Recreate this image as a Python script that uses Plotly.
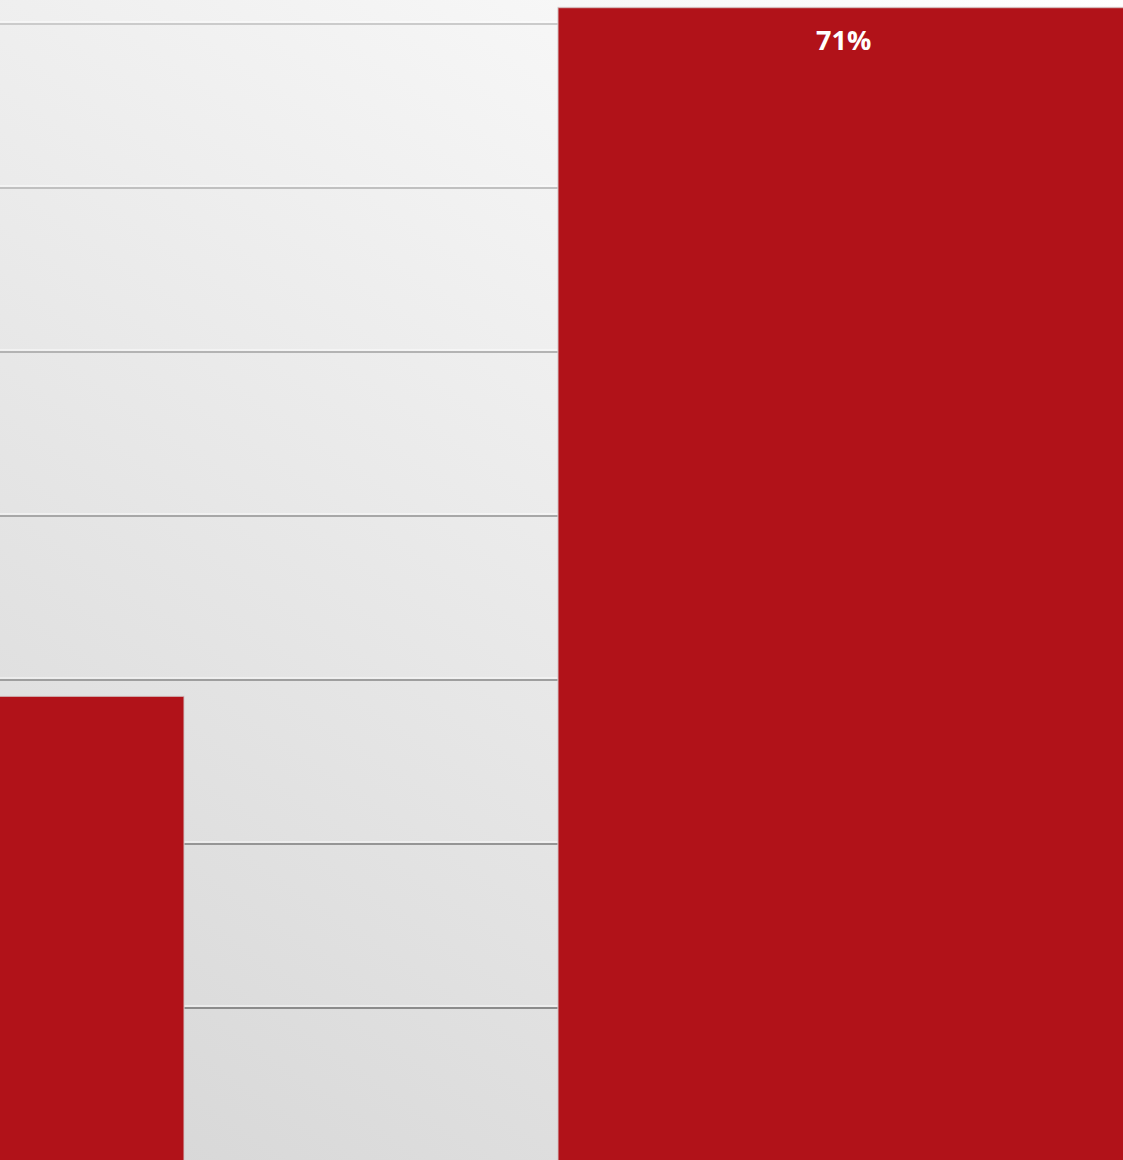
import base64
import plotly.graph_objects as go

# ---- data ----
categories = ["Category 1", "Category 2"]
values = [29, 71]
grid_values = [10, 20, 30, 40, 50, 60, 70]
grid_colors = ["#8b8b8b", "#959595", "#9e9e9e", "#a7a7a7", "#b3b3b3", "#c0c0c0", "#cbcbcb"]

W, H = 1123, 1160
BAR = "#b11219"

# diagonal background gradient (white top-right -> light grey bottom-left)
svg = f'''<svg xmlns="http://www.w3.org/2000/svg" width="{W}" height="{H}" viewBox="0 0 {W} {H}">
<defs><linearGradient id="g" gradientUnits="userSpaceOnUse" x1="{W}" y1="0" x2="245" y2="1310">
<stop offset="0" stop-color="#ffffff"/><stop offset="1" stop-color="#d6d6d6"/></linearGradient></defs>
<rect width="{W}" height="{H}" fill="url(#g)"/></svg>'''
bg_src = "data:image/svg+xml;base64," + base64.b64encode(svg.encode()).decode()

fig = go.Figure()
fig.add_trace(go.Bar(
    x=categories, y=values, width=0.604,
    marker=dict(color=BAR, line=dict(color="rgba(215,215,215,0.65)", width=1.5)),
    hoverinfo="skip",
))

shapes = []
for gv, gc in zip(grid_values, grid_colors):
    # light highlight just above each grid line
    shapes.append(dict(type="line", xref="paper", x0=0, x1=1, yref="y", ysizemode="pixel",
                       yanchor=gv, y0=2, y1=2, line=dict(color="rgba(255,255,255,0.8)", width=1),
                       layer="below"))
    shapes.append(dict(type="line", xref="paper", x0=0, x1=1, yref="y", y0=gv, y1=gv,
                       line=dict(color=gc, width=2), layer="below"))

annotations = [dict(x=c, y=v, xref="x", yref="y", text=f"{v}%", showarrow=False,
                    yanchor="middle", yshift=-32,
                    font=dict(family="Open Sans", size=27, color="white", weight="bold"))
               for c, v in zip(categories, values)]

fig.update_layout(
    width=W, height=H,
    margin=dict(l=0, r=0, t=0, b=0),
    paper_bgcolor="#ececec", plot_bgcolor="rgba(0,0,0,0)",
    showlegend=False,
    images=[dict(source=bg_src, xref="paper", yref="paper", x=0, y=1, sizex=1, sizey=1,
                 sizing="stretch", xanchor="left", yanchor="top", layer="below")],
    shapes=shapes,
    annotations=annotations,
    xaxis=dict(type="category", range=[0.107, 1.2966], showticklabels=False, showgrid=False,
               zeroline=False, showline=False, fixedrange=True),
    yaxis=dict(range=[0.73, 71.46], showticklabels=False, showgrid=False, zeroline=False,
               showline=False, fixedrange=True),
)

fig.write_html("out.html", config={"displayModeBar": False},
               post_script="document.body.style.margin='0';document.body.style.overflow='hidden';")
